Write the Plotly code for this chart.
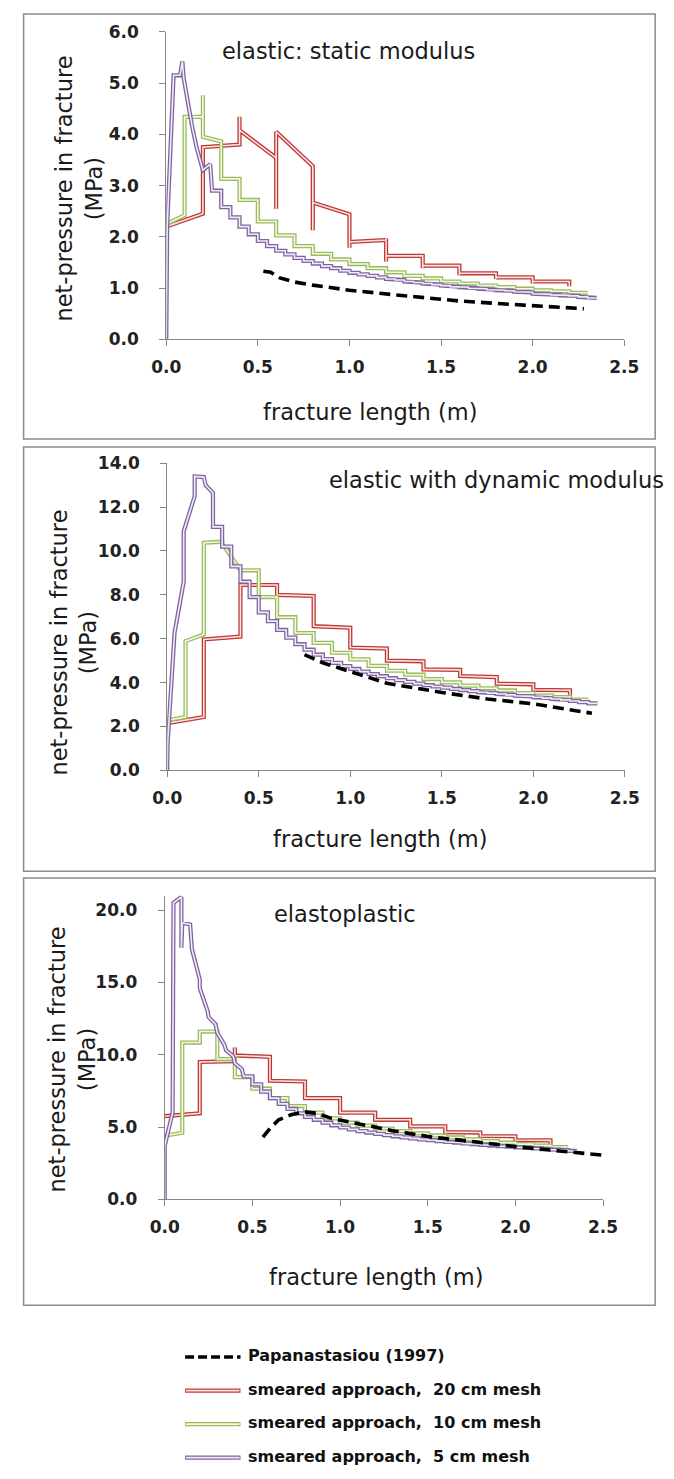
import plotly.graph_objects as go

W, H = 674, 1479

# ------------------------------------------------------------------ data
x_ticks = [0.0, 0.5, 1.0, 1.5, 2.0, 2.5]
y_ticks_1 = [0, 1, 2, 3, 4, 5, 6]
y_ticks_2 = [0, 2, 4, 6, 8, 10, 12, 14]
y_ticks_3 = [0, 5, 10, 15, 20]

series_names = ["Papanastasiou (1997)", "smeared approach,  20 cm mesh",
                "smeared approach,  10 cm mesh", "smeared approach,  5 cm mesh"]
panel_titles = ["elastic: static modulus", "elastic with dynamic modulus", "elastoplastic"]

# step edges (mesh boundaries, m)
edges_5cm_a = [0.25, 0.30, 0.35, 0.40, 0.45, 0.50, 0.55, 0.60, 0.65, 0.70, 0.75, 0.80,
               0.85, 0.90, 0.95, 1.00, 1.05, 1.10, 1.15, 1.20, 1.25, 1.30, 1.35, 1.40,
               1.45, 1.50, 1.55, 1.60, 1.65, 1.70, 1.75, 1.80, 1.85, 1.90, 1.95, 2.00,
               2.05, 2.10, 2.15, 2.20, 2.25, 2.30, 2.35]
edges_5cm_b = [0.45, 0.50, 0.55, 0.60, 0.65, 0.70, 0.75, 0.80, 0.85, 0.90, 0.95, 1.00,
               1.05, 1.10, 1.15, 1.20, 1.25, 1.30, 1.35, 1.40, 1.45, 1.50, 1.55, 1.60,
               1.65, 1.70, 1.75, 1.80, 1.85, 1.90, 1.95, 2.00, 2.05, 2.10, 2.15, 2.20,
               2.25, 2.30, 2.35]
edges_10cm_a = [0.3, 0.4, 0.5, 0.6, 0.7, 0.8, 0.9, 1.0, 1.1, 1.2, 1.3, 1.4, 1.5, 1.6,
                1.7, 1.8, 1.9, 2.0, 2.1, 2.2, 2.3]
edges_10cm_b = [0.4, 0.5, 0.6, 0.7, 0.8, 0.9, 1.0, 1.1, 1.2, 1.3, 1.4, 1.5, 1.6,
                1.7, 1.8, 1.9, 2.0, 2.1, 2.2, 2.3]

# ---- panel 1 : elastic, static modulus
p1_ref_x = [0.53, 0.57, 0.62, 0.70, 0.80, 0.90, 1.00, 1.25, 1.60, 1.95, 2.28]
p1_ref_y = [1.33, 1.31, 1.20, 1.12, 1.06, 1.01, 0.96, 0.87, 0.75, 0.67, 0.60]

p1_20_x = [0, 0.2, 0.2, 0.4, 0.4, 0.4, 0.6, 0.6, 0.6, 0.8, 0.8, 0.8, 1.0, 1.0, 1.0,
           1.2, 1.2, 1.2, 1.2, 1.4, 1.4, 1.4, 1.6, 1.6, 1.6, 1.8, 1.8, 1.8, 2.0, 2.0,
           2.0, 2.2, 2.2]
p1_20_y = [2.20, 2.45, 3.75, 3.80, 4.34, 4.08, 3.54, 2.55, 4.05, 3.38, 2.13, 2.67, 2.44,
           1.79, 1.90, 1.94, 1.97, 1.52, 1.63, 1.63, 1.39, 1.44, 1.44, 1.25, 1.29, 1.29,
           1.18, 1.21, 1.21, 1.09, 1.13, 1.13, 1.04]

p1_10_head_x = [0, 0.1, 0.1, 0.2, 0.2, 0.2, 0.3]
p1_10_head_y = [2.25, 2.42, 4.34, 4.34, 4.76, 3.95, 3.86]
p1_10_levels = [3.13, 2.72, 2.30, 2.03, 1.82, 1.67, 1.56, 1.47, 1.39, 1.31, 1.24, 1.19,
                1.13, 1.09, 1.05, 1.02, 0.99, 0.96, 0.94, 0.91]

p1_5_head_x = [0, 0.005, 0.04, 0.075, 0.088, 0.095, 0.14, 0.165, 0.2, 0.24]
p1_5_head_y = [0, 2.2, 5.15, 5.15, 5.42, 5.1, 4.18, 3.75, 3.3, 3.42]
p1_5_levels = [2.90, 2.58, 2.38, 2.20, 2.05, 1.92, 1.82, 1.73, 1.66, 1.59, 1.53, 1.48,
               1.43, 1.39, 1.34, 1.30, 1.27, 1.24, 1.21, 1.18, 1.16, 1.13, 1.11, 1.09,
               1.07, 1.05, 1.03, 1.02, 1.00, 0.99, 0.97, 0.96, 0.95, 0.93, 0.92, 0.89,
               0.88, 0.87, 0.86, 0.85, 0.83, 0.81]

# ---- panel 2 : elastic, dynamic modulus
p2_ref_x = [0.75, 0.85, 1.00, 1.20, 1.50, 1.75, 2.00, 2.20, 2.32]
p2_ref_y = [5.27, 4.90, 4.50, 3.97, 3.55, 3.25, 3.03, 2.78, 2.60]

p2_20_x = [0, 0.2, 0.2, 0.4, 0.4, 0.6, 0.6, 0.8, 0.8, 1.0, 1.0, 1.2, 1.2, 1.4, 1.4,
           1.6, 1.6, 1.8, 1.8, 2.0, 2.0, 2.2, 2.2]
p2_20_y = [2.15, 2.43, 5.97, 6.10, 8.45, 8.45, 8.00, 7.95, 6.57, 6.50, 5.60, 5.55, 5.00,
           4.97, 4.60, 4.58, 4.30, 4.25, 3.95, 3.92, 3.67, 3.65, 3.45]

p2_10_head_x = [0, 0.1, 0.1, 0.2, 0.2, 0.3, 0.3]
p2_10_head_y = [2.28, 2.43, 5.89, 6.19, 10.38, 10.42, 10.35]
p2_10_levels = [9.12, 7.90, 6.98, 6.26, 5.81, 5.36, 5.06, 4.76, 4.54, 4.36, 4.16, 4.01,
                3.86, 3.74, 3.64, 3.52, 3.41, 3.34, 3.22]

p2_5_head_x = [0, 0.002, 0.04, 0.09, 0.09, 0.15, 0.15, 0.2, 0.21, 0.25]
p2_5_head_y = [0, 1.2, 6.26, 8.6, 10.9, 12.5, 13.4, 13.37, 13.0, 12.65]
p2_5_levels = [11.1, 10.2, 9.3, 8.6, 7.9, 7.2, 6.8, 6.4, 6.05, 5.75, 5.5, 5.27, 5.07,
               4.9, 4.75, 4.62, 4.5, 4.39, 4.29, 4.2, 4.11, 4.03, 3.95, 3.88, 3.82,
               3.77, 3.71, 3.66, 3.61, 3.56, 3.52, 3.48, 3.44, 3.40, 3.37, 3.33, 3.29,
               3.25, 3.21, 3.16, 3.11, 3.05]

# ---- panel 3 : elastoplastic
p3_ref_x = [0.56, 0.60, 0.65, 0.72, 0.80, 0.87, 0.95, 1.10, 1.30, 1.50, 1.75, 2.00, 2.25, 2.49]
p3_ref_y = [4.30, 4.90, 5.50, 5.85, 6.05, 5.95, 5.60, 5.25, 4.75, 4.35, 3.98, 3.65, 3.35, 3.07]

p3_20_x = [0, 0.2, 0.2, 0.4, 0.4, 0.4, 0.6, 0.6, 0.8, 0.8, 1.0, 1.0, 1.2, 1.2, 1.4, 1.4,
           1.6, 1.6, 1.8, 1.8, 2.0, 2.0, 2.2, 2.2]
p3_20_y = [5.75, 5.95, 9.50, 9.55, 10.5, 9.95, 9.85, 8.20, 8.15, 7.00, 7.00, 6.00, 6.00,
           5.50, 5.50, 5.05, 5.05, 4.65, 4.62, 4.38, 4.36, 4.10, 4.08, 3.80]

p3_10_head_x = [0, 0.1, 0.1, 0.2, 0.2, 0.3]
p3_10_head_y = [4.4, 4.6, 10.84, 10.84, 11.6, 11.6]
p3_10_levels = [9.7, 8.45, 7.65, 7.0, 6.45, 6.0, 5.6, 5.3, 5.1, 4.9, 4.72, 4.56, 4.42,
                4.28, 4.15, 4.03, 3.92, 3.82, 3.72, 3.62]

p3_5_head_x = [0, 0.0, 0.045, 0.05, 0.095, 0.095, 0.1, 0.145, 0.155, 0.2, 0.2, 0.245,
               0.25, 0.29, 0.3, 0.34, 0.35, 0.39, 0.4, 0.44]
p3_5_head_y = [0, 3.7, 6.0, 20.5, 20.9, 17.4, 19.1, 19.0, 17.3, 15.2, 14.6, 13.0,
               12.6, 12.1, 11.5, 10.7, 10.3, 9.9, 9.4, 9.0]
p3_5_levels = [8.5, 7.95, 7.45, 7.0, 6.6, 6.25, 5.95, 5.7, 5.5, 5.3, 5.12, 4.97, 4.84,
               4.72, 4.62, 4.53, 4.44, 4.36, 4.29, 4.22, 4.15, 4.09, 4.03, 3.97, 3.92,
               3.87, 3.82, 3.77, 3.72, 3.68, 3.64, 3.60, 3.56, 3.52, 3.48, 3.44, 3.40,
               3.35]


def stairs(head_x, head_y, edges, levels):
    xs, ys = list(head_x), list(head_y)
    for i, lv in enumerate(levels):
        xs += [edges[i], edges[i + 1]]
        ys += [lv, lv]
    return xs, ys


panels = [
    dict(ref=(p1_ref_x, p1_ref_y), s20=(p1_20_x, p1_20_y),
         s10=stairs(p1_10_head_x, p1_10_head_y, edges_10cm_a, p1_10_levels),
         s5=stairs(p1_5_head_x, p1_5_head_y, edges_5cm_a, p1_5_levels)),
    dict(ref=(p2_ref_x, p2_ref_y), s20=(p2_20_x, p2_20_y),
         s10=stairs(p2_10_head_x, p2_10_head_y, edges_10cm_b, p2_10_levels),
         s5=stairs(p2_5_head_x, p2_5_head_y, edges_5cm_a, p2_5_levels)),
    dict(ref=(p3_ref_x, p3_ref_y), s20=(p3_20_x, p3_20_y),
         s10=stairs(p3_10_head_x, p3_10_head_y, edges_10cm_a, p3_10_levels),
         s5=stairs(p3_5_head_x, p3_5_head_y, edges_5cm_b, p3_5_levels)),
]

# ------------------------------------------------------------------ style
RED, RED_IN = "#BE3A36", "#F9E3E2"
GRN, GRN_IN = "#9BBB59", "#F4F8EC"
PUR, PUR_IN = "#8064A2", "#F0ECF6"
OUTER_W, INNER_W = 4.2, 1.6
DASH = "11px,6px"
AXIS_GREY = "#868686"
TXT = "#1a1a1a"
FONT = "DejaVu Sans"


def px_x(v):
    return v / W


def px_y(v):
    return 1 - v / H


# plot-area pixel boxes (left, right, top, bottom)
boxes = [(158.3, 637.6, 22.0, 334.0), (159.3, 638.3, 459.5, 770.7), (156.7, 615.5, 897.7, 1205.7)]
y_ranges = [[0, 6], [0, 14], [0, 21]]
y_tickvals = [y_ticks_1, y_ticks_2, y_ticks_3]

fig = go.Figure()

for k, p in enumerate(panels):
    xa = "x" if k == 0 else f"x{k + 1}"
    ya = "y" if k == 0 else f"y{k + 1}"
    for key, c_out, c_in, nm in [("s20", RED, RED_IN, series_names[1]),
                                 ("s10", GRN, GRN_IN, series_names[2]),
                                 ("s5", PUR, PUR_IN, series_names[3])]:
        xs, ys = p[key]
        fig.add_trace(go.Scatter(x=xs, y=ys, mode="lines", name=nm, xaxis=xa, yaxis=ya,
                                 line=dict(color=c_out, width=OUTER_W), showlegend=False,
                                 hoverinfo="skip"))
        fig.add_trace(go.Scatter(x=xs, y=ys, mode="lines", name=nm, xaxis=xa, yaxis=ya,
                                 line=dict(color=c_in, width=INNER_W), showlegend=False,
                                 hoverinfo="skip"))
    xs, ys = p["ref"]
    fig.add_trace(go.Scatter(x=xs, y=ys, mode="lines", name=series_names[0], xaxis=xa, yaxis=ya,
                             line=dict(color="black", width=3.6, dash=DASH), showlegend=False,
                             hoverinfo="skip"))

axis_common = dict(showline=True, linecolor=AXIS_GREY, linewidth=1, ticks="outside",
                   ticklen=6, tickcolor=AXIS_GREY, tickwidth=1, showgrid=False,
                   zeroline=False, tickformat=".1f", tickmode="array", fixedrange=True,
                   tickfont=dict(family=FONT, size=17, color="#222222", weight="bold"))

layout = dict(width=W, height=H, margin=dict(l=0, r=0, t=0, b=0),
              paper_bgcolor="white", plot_bgcolor="rgba(0,0,0,0)", showlegend=False)

for k, (l, r, t, b) in enumerate(boxes):
    sx = "" if k == 0 else str(k + 1)
    layout["xaxis" + sx] = dict(axis_common, domain=[px_x(l), px_x(r)], range=[0, 2.5],
                                tickvals=x_ticks, anchor="y" + sx, ticklabelstandoff=6)
    layout["yaxis" + sx] = dict(axis_common, domain=[px_y(b), px_y(t)], range=y_ranges[k],
                                tickvals=y_tickvals[k], anchor="x" + sx, ticklabelstandoff=17)

fig.update_layout(**layout)

# panel frames
frames = [(9, 670, 4, 435), (9, 670, 443, 873), (9, 670, 880, 1313)]
for (l, r, t, b) in frames:
    fig.add_shape(type="rect", xref="paper", yref="paper", x0=px_x(l), x1=px_x(r),
                  y0=px_y(b), y1=px_y(t), line=dict(color="#8C8C8C", width=1.5),
                  fillcolor="rgba(0,0,0,0)", layer="below")

# texts
title_pos = [(215, 41.7), (326.6, 476.7), (268.6, 916.0)]
xtitle_pos = [(372.4, 408), (382.6, 840), (378.0, 1284)]
ytitle_pos = [(67.0, 181), (61.5, 641.5), (59.0, 1063.5)]
for k in range(3):
    fig.add_annotation(x=px_x(title_pos[k][0]), y=px_y(title_pos[k][1]), xref="paper", yref="paper",
                       text=panel_titles[k], showarrow=False, xanchor="left", yanchor="middle",
                       font=dict(family=FONT, size=22.5, color=TXT))
    fig.add_annotation(x=px_x(xtitle_pos[k][0]), y=px_y(xtitle_pos[k][1]), xref="paper", yref="paper",
                       text="fracture length (m)", showarrow=False, xanchor="center",
                       yanchor="middle", font=dict(family=FONT, size=22.5, color=TXT))
    fig.add_annotation(x=px_x(ytitle_pos[k][0]), y=px_y(ytitle_pos[k][1]), xref="paper", yref="paper",
                       text="net-pressure in fracture<br>(MPa)", showarrow=False, textangle=-90,
                       xanchor="center", yanchor="middle",
                       font=dict(family=FONT, size=22.5, color=TXT))

# legend (drawn below the panels)
leg_rows = [1364, 1398, 1432, 1466]
leg_styles = [("black", None, DASH), (RED, RED_IN, None), (GRN, GRN_IN, None), (PUR, PUR_IN, None)]
for i, (cy, (c_out, c_in, dash)) in enumerate(zip(leg_rows, leg_styles)):
    ly = px_y(cy + 1.5)
    if dash:
        fig.add_shape(type="line", xref="paper", yref="paper", x0=px_x(178), x1=px_x(236),
                      y0=ly, y1=ly, line=dict(color=c_out, width=3.6, dash="9px,4px"))
    else:
        fig.add_shape(type="line", xref="paper", yref="paper", x0=px_x(178), x1=px_x(236),
                      y0=ly, y1=ly, line=dict(color=c_out, width=OUTER_W))
        fig.add_shape(type="line", xref="paper", yref="paper", x0=px_x(179), x1=px_x(235),
                      y0=ly, y1=ly, line=dict(color=c_in, width=INNER_W))
    fig.add_annotation(x=px_x(242), y=px_y(cy), xref="paper", yref="paper",
                       text=series_names[i], showarrow=False, xanchor="left", yanchor="middle",
                       font=dict(family=FONT, size=16, color="#111111", weight="bold"))

fig.write_html("out.html",
               post_script="document.body.style.margin='0';document.body.style.padding='0';"
                           "document.documentElement.style.overflow='hidden';")
